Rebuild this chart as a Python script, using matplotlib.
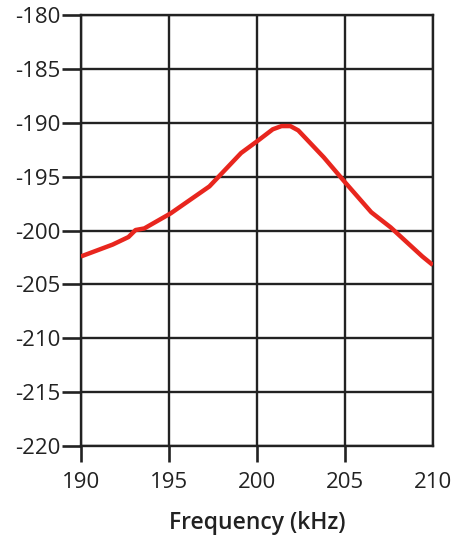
import numpy as np
import matplotlib.pyplot as plt

plt.rcParams['font.family'] = ['Open Sans', 'DejaVu Sans']

# values
freq_khz = [190.0, 191.8, 192.7, 193.1, 193.6, 195.1, 197.3, 199.1, 200.1,
            200.9, 201.4, 201.9, 202.35, 203.8, 205.0, 206.5, 207.6, 209.4, 210.0]
level_db = [-202.4, -201.3, -200.6, -199.95, -199.8, -198.4, -195.9, -192.8, -191.6,
            -190.6, -190.3, -190.3, -190.7, -193.2, -195.5, -198.3, -199.7, -202.4, -203.2]
x_ticks = [190, 195, 200, 205, 210]
y_ticks = [-220, -215, -210, -205, -200, -195, -190, -185, -180]

fig = plt.figure(figsize=(4.6, 5.4), dpi=100)
ax = fig.add_axes([0.176, 0.174, 0.765, 0.798])

line_col = '#222222'
ax.plot(freq_khz, level_db, color='#e8261e', linewidth=3.2, solid_capstyle='butt', zorder=3)

ax.set_xlim(190, 210)
ax.set_ylim(-220, -180)
ax.set_xticks(x_ticks)
ax.set_yticks(y_ticks)
ax.set_yticklabels([str(v) for v in y_ticks])
ax.grid(True, color=line_col, linewidth=1.7)
for s in ax.spines.values():
    s.set_color(line_col)
    s.set_linewidth(1.7)

ax.tick_params(axis='y', length=14, width=1.9, color=line_col, pad=1, labelsize=16, labelcolor='#222222')
ax.tick_params(axis='x', length=11.5, width=1.9, color=line_col, pad=7, labelsize=16, labelcolor='#222222')
ax.xaxis.get_major_ticks()[-1].tick1line.set_visible(False)

ax.set_xlabel('Frequency (kHz)', fontsize=16.5, fontweight='semibold', color='#222222', labelpad=13)

fig.savefig('out.png', dpi=100)
